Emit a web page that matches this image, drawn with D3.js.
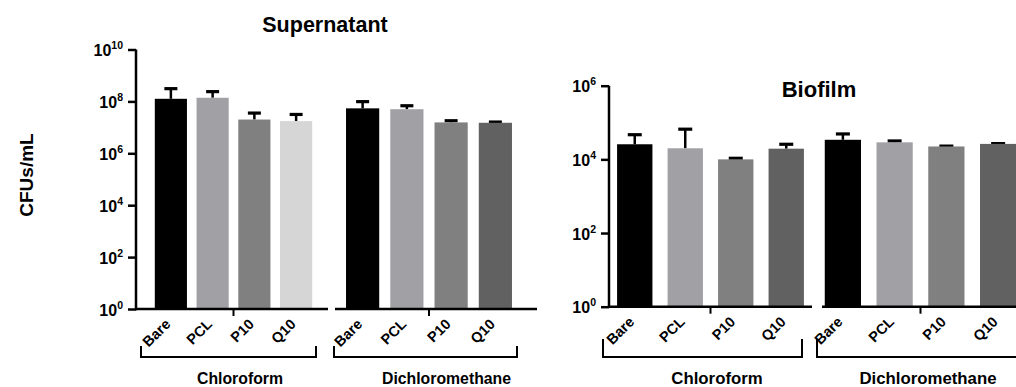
<!DOCTYPE html>
<html>
<head>
<meta charset="utf-8">
<script src="https://cdn.jsdelivr.net/npm/d3@7"></script>
<style>
  body { margin: 0; background: #fff; }
  svg { display: block; font-family: "Liberation Sans", Arial, sans-serif; font-weight: bold; }
</style>
</head>
<body>
<svg id="chart" width="1016" height="387"></svg>
<script>
// data
var materials = ["Bare", "PCL", "P10", "Q10"];
var solvents = ["Chloroform", "Dichloromethane"];

var superMean = [[1.26e8, 1.38e8, 2.0e7, 1.74e7], [5.4e7, 5.0e7, 1.55e7, 1.5e7]];
var superErr  = [[1.84e8, 1.0e8, 1.55e7, 1.4e7], [4.4e7, 1.8e7, 2.5e6, 1.0e6]];
var bioMean = [[2.57e4, 2.0e4, 1.0e4, 1.95e4], [3.4e4, 2.9e4, 2.24e4, 2.63e4]];
var bioErr  = [[2.1e4, 4.6e4, 700, 6200], [1.5e4, 2600, 500, 500]];

var superTicks = [1, 1e2, 1e4, 1e6, 1e8, 1e10];
var bioTicks = [1, 1e2, 1e4, 1e6];

var colorsLight = ["#000000", "#a1a1a5", "#808080", "#d6d6d6"];
var colorsDark  = ["#000000", "#a1a1a5", "#808080", "#616161"];

var svg = d3.select("#chart");

function drawPanel(cfg) {
  var y = d3.scaleLog().domain(cfg.domain).range([cfg.y0, cfg.y1]);
  var g = svg.append("g");

  // y axis
  var yAxis = d3.axisLeft(y).tickValues(cfg.ticks).tickSize(8).tickSizeOuter(0).tickFormat("");
  var ya = g.append("g").attr("transform", "translate(" + cfg.x0 + ",0)").call(yAxis);
  ya.select(".domain").attr("stroke-width", 2.5).attr("d", "M0," + (cfg.y0 + 1.2) + "V" + cfg.y1);
  ya.selectAll(".tick line").attr("stroke-width", 2.5);
  ya.selectAll(".tick").each(function (d) {
    var t = d3.select(this).append("text")
      .attr("x", -13).attr("y", 6).attr("text-anchor", "end")
      .attr("fill", "#000").style("font-size", "16px");
    t.append("tspan").text("10");
    t.append("tspan").attr("dy", -7).style("font-size", "10.5px").text(Math.round(Math.log10(d)));
  });

  cfg.groups.forEach(function (grp, gi) {
    var x = d3.scaleBand().domain(materials).range(grp.band)
      .paddingInner(grp.pad).paddingOuter(grp.pad / 2);
    var bw = x.bandwidth();
    var cols = cfg.colors[gi];
    var means = cfg.mean[gi], errs = cfg.err[gi];

    // error bars (drawn under the bars, stem hidden by the bar)
    var eb = g.append("g");
    materials.forEach(function (m, i) {
      var cx = x(m) + bw / 2;
      var top = y(means[i] + errs[i]);
      eb.append("line").attr("x1", cx).attr("x2", cx)
        .attr("y1", y(means[i])).attr("y2", top)
        .attr("stroke", "#000").attr("stroke-width", 2.5);
      eb.append("line").attr("x1", cx - cfg.cap / 2).attr("x2", cx + cfg.cap / 2)
        .attr("y1", top).attr("y2", top)
        .attr("stroke", "#000").attr("stroke-width", 3.2);
    });

    g.append("g").selectAll("rect").data(means).enter().append("rect")
      .attr("x", function (d, i) { return x(materials[i]); })
      .attr("width", bw)
      .attr("y", function (d) { return y(d); })
      .attr("height", function (d) { return cfg.y0 - y(d); })
      .attr("fill", function (d, i) { return cols[i]; });

    // x axis segment with center tick
    var mid = (x(materials[0]) + x(materials[3]) + bw) / 2;
    g.append("line").attr("x1", grp.axis[0]).attr("x2", grp.axis[1])
      .attr("y1", cfg.y0).attr("y2", cfg.y0).attr("stroke", "#000").attr("stroke-width", 2.5);
    g.append("line").attr("x1", mid).attr("x2", mid)
      .attr("y1", cfg.y0).attr("y2", cfg.y0 + 7).attr("stroke", "#000").attr("stroke-width", 2);

    // rotated category labels
    g.append("g").selectAll("text").data(materials).enter().append("text")
      .attr("transform", function (d) {
        return "translate(" + (x(d) + bw / 2 + 0.5) + "," + (cfg.y0 + 16) + ") rotate(-45)";
      })
      .attr("text-anchor", "end").style("font-size", "14.5px").text(String);

    // bracket + solvent label
    var b = grp.bracket;
    g.append("path")
      .attr("d", "M" + b[0] + "," + cfg.brTop + "V" + cfg.brBot + "H" + b[1] + "V" + cfg.brTop)
      .attr("fill", "none").attr("stroke", "#000").attr("stroke-width", 2);
    g.append("text").attr("x", grp.label).attr("y", 384)
      .attr("text-anchor", "middle").style("font-size", cfg.labelSize + "px").text(solvents[gi]);
  });

  svg.append("text").attr("x", cfg.title[0]).attr("y", cfg.title[1])
    .attr("text-anchor", "middle").style("font-size", cfg.title[2] + "px").text(cfg.titleText);
}

drawPanel({
  domain: [1, 1e10], y0: 309, y1: 49.5, x0: 136, ticks: superTicks,
  mean: superMean, err: superErr, colors: [colorsLight, colorsDark], cap: 13,
  brTop: 346, brBot: 357, labelSize: 15.8,
  groups: [
    { band: [150, 317], pad: 0.23, axis: [136, 328], bracket: [141, 316], label: 240 },
    { band: [340.5, 517.5], pad: 0.25, axis: [335, 537], bracket: [334, 517], label: 446.5 }
  ],
  title: [325, 32, 21.5], titleText: "Supernatant"
});

drawPanel({
  domain: [1, 1e6], y0: 306.7, y1: 85.7, x0: 609, ticks: bioTicks,
  mean: bioMean, err: bioErr, colors: [colorsDark, colorsDark], cap: 14,
  brTop: 339, brBot: 357, labelSize: 16.8,
  groups: [
    { band: [609.5, 811.5], pad: 0.3, axis: [609, 812], bracket: [603, 802], label: 717 },
    { band: [817, 1024], pad: 0.3, axis: [822, 1030], bracket: [817, 1030], label: 928 }
  ],
  title: [819, 97, 22], titleText: "Biofilm"
});

svg.append("text")
  .attr("transform", "translate(33,175) rotate(-90)")
  .attr("text-anchor", "middle").style("font-size", "19px").text("CFUs/mL");
</script>
</body>
</html>
